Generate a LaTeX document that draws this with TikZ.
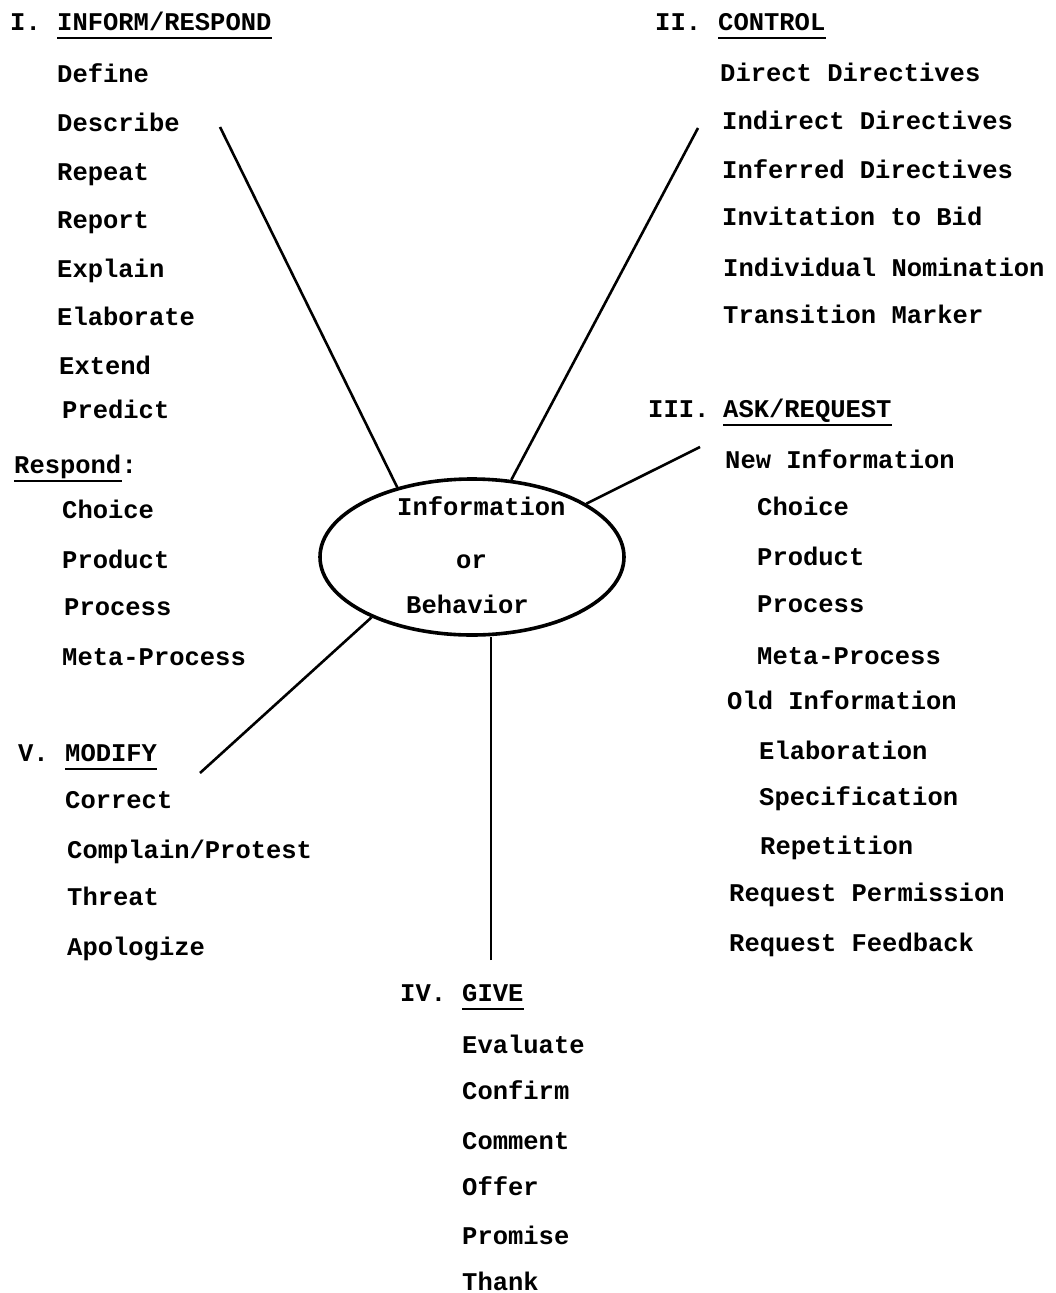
\documentclass[tikz,border=0pt]{standalone}
\usepackage{fontspec}
\setmonofont{Liberation Mono}
\usetikzlibrary{shapes.geometric}
\begin{document}
\begin{tikzpicture}[x=1pt,y=-1pt,
  t/.style={font=\ttfamily\bfseries\fontsize{25.5}{30}\selectfont, anchor=base west, inner sep=0pt},
  ul/.style={line width=2.4pt},
  conn/.style={line width=2.6pt},
  hubstyle/.style={draw, ellipse, line width=3.6pt, minimum width=304pt, minimum height=156pt, inner sep=0pt}]
\fill[white] (0,0) rectangle (1055,1293);
\useasboundingbox (0,0) rectangle (1055,1293);

% hub
\node[hubstyle] (hub) at (472,557) {};
\node[t] (hubA) at (397,515) {Information};
\node[t] (hubB) at (456,568) {or};
\node[t] (hubC) at (406,613) {Behavior};

% I. INFORM/RESPOND
\node[t] (n1) at (10,30) {I.};
\node[t] (h1) at (57,30) {INFORM/RESPOND};
\draw[ul] ([yshift=-8pt]h1.base west) -- ([yshift=-8pt]h1.base east);
\node[t] (a1) at (57,82) {Define};
\node[t] (a2) at (57,131) {Describe};
\node[t] (a3) at (57,180) {Repeat};
\node[t] (a4) at (57,228) {Report};
\node[t] (a5) at (57,277) {Explain};
\node[t] (a6) at (57,325) {Elaborate};
\node[t] (a7) at (59,374) {Extend};
\node[t] (a8) at (62,418) {Predict};
\node[t] (r0) at (14,473) {Respond};
\draw[ul] ([yshift=-8pt]r0.base west) -- ([yshift=-8pt]r0.base east);
\node[t] (r0c) at (r0.base east) {:};
\node[t] (a9) at (62,518) {Choice};
\node[t] (a10) at (62,568) {Product};
\node[t] (a11) at (64,615) {Process};
\node[t] (a12) at (62,665) {Meta-Process};

% V. MODIFY
\node[t] (n5) at (18,761) {V.};
\node[t] (h5) at (65,761) {MODIFY};
\draw[ul] ([yshift=-8pt]h5.base west) -- ([yshift=-8pt]h5.base east);
\node[t] (e1) at (65,808) {Correct};
\node[t] (e2) at (67,858) {Complain/Protest};
\node[t] (e3) at (67,905) {Threat};
\node[t] (e4) at (67,955) {Apologize};

% II. CONTROL
\node[t] (n2) at (655,30) {II.};
\node[t] (h2) at (718,30) {CONTROL};
\draw[ul] ([yshift=-8pt]h2.base west) -- ([yshift=-8pt]h2.base east);
\node[t] (b1) at (720,81) {Direct Directives};
\node[t] (b2) at (722,129) {Indirect Directives};
\node[t] (b3) at (722,178) {Inferred Directives};
\node[t] (b4) at (722,225) {Invitation to Bid};
\node[t] (b5) at (723,276) {Individual Nomination};
\node[t] (b6) at (723,323) {Transition Marker};

% III. ASK/REQUEST
\node[t] (n3) at (648,417) {III.};
\node[t] (h3) at (723,417) {ASK/REQUEST};
\draw[ul] ([yshift=-8pt]h3.base west) -- ([yshift=-8pt]h3.base east);
\node[t] (c1) at (725,468) {New Information};
\node[t] (c2) at (757,515) {Choice};
\node[t] (c3) at (757,565) {Product};
\node[t] (c4) at (757,612) {Process};
\node[t] (c5) at (757,664) {Meta-Process};
\node[t] (c6) at (727,709) {Old Information};
\node[t] (c7) at (759,759) {Elaboration};
\node[t] (c8) at (759,805) {Specification};
\node[t] (c9) at (760,854) {Repetition};
\node[t] (c10) at (729,901) {Request Permission};
\node[t] (c11) at (729,951) {Request Feedback};

% IV. GIVE
\node[t] (n4) at (400,1001) {IV.};
\node[t] (h4) at (462,1001) {GIVE};
\draw[ul] ([yshift=-8pt]h4.base west) -- ([yshift=-8pt]h4.base east);
\node[t] (d1) at (462,1053) {Evaluate};
\node[t] (d2) at (462,1099) {Confirm};
\node[t] (d3) at (462,1149) {Comment};
\node[t] (d4) at (462,1195) {Offer};
\node[t] (d5) at (462,1244) {Promise};
\node[t] (d6) at (462,1290) {Thank};

% connectors
\coordinate (k1) at (220,127);
\coordinate (k2) at (698,128);
\coordinate (k3) at (700,447);
\coordinate (k4) at (200,773);
\coordinate (k5) at (491,960);
\draw[conn] (k1) -- (hub.137);
\draw[conn] (k2) -- (hub.63);
\draw[conn] (k3) -- (hub.25);
\draw[conn] (k4) -- (hub.211);
\draw[conn] (k5) -- (k5 |- hub.south);
\end{tikzpicture}
\end{document}
